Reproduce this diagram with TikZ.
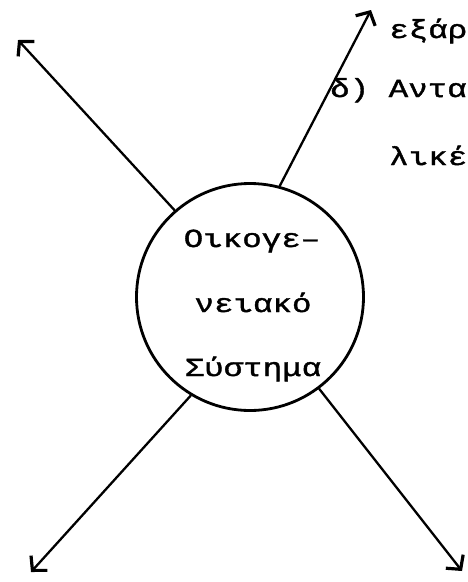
\documentclass[tikz,border=0pt]{standalone}
\usepackage{fontspec}
\newfontfamily\tw[FakeStretch=1.25,FakeBold=1.5]{Liberation Mono}
\usetikzlibrary{arrows.meta}
\begin{document}
\begin{tikzpicture}[x=1pt,y=-1pt,
  conn/.style={line width=2.3pt, line cap=round, -{Straight Barb[length=10pt,width=22pt,line width=3.2pt]}},
  txt/.style={font=\tw\fontsize{26}{26}\selectfont, inner sep=0pt},
  lbl/.style={txt, anchor=base west},
  ctr/.style={txt, anchor=base}]
\useasboundingbox (0,0) rectangle (467,582);
\clip (0,0) rectangle (467,582);
\node[circle, draw, line width=2.8pt, minimum size=227pt, inner sep=0pt] (sys) at (250,297) {};
\node[ctr] (t1) at (252,247) {Οικογε–};
\node[ctr] (t2) at (253,312) {νειακό};
\node[ctr] (t3) at (253,376) {Σύστημα};
\node[lbl] (r1) at (389,38) {εξάρ};
\node[lbl] (r2) at (330,97) {δ) Αντα};
\node[lbl] (r3) at (389,165) {λικέ};
\coordinate (ul) at (18,40);
\coordinate (ur) at (371,10);
\coordinate (ll) at (31,572);
\coordinate (lr) at (462,571);
\draw[conn] (sys.131.4) -- (ul);
\draw[conn] (sys.75.5) -- (ur);
\draw[conn] (sys.239.3) -- (ll);
\draw[conn] (sys.307.7) -- (lr);
\end{tikzpicture}
\end{document}
